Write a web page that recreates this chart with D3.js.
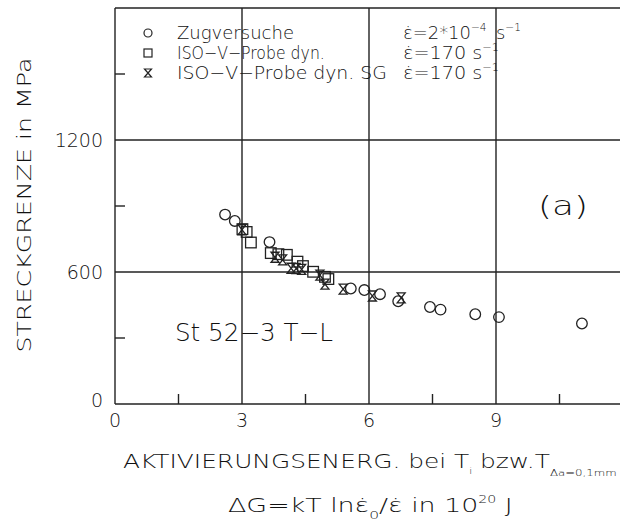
<!DOCTYPE html>
<html><head><meta charset="utf-8">
<script src="https://cdn.jsdelivr.net/npm/d3@7"></script>
<style>
body{margin:0;background:#fff;}
svg text{font-family:"DejaVu Sans",sans-serif;fill:#111;font-weight:200;}
</style></head>
<body><svg id="c" width="620" height="529"></svg>
<script>
// Data
const zugX = [2.60, 2.83, 3.65, 5.57, 5.89, 6.26, 6.69, 7.44, 7.69, 8.51, 9.07, 11.03];
const zugY = [861, 832, 736, 525, 518, 499, 467, 441, 429, 408, 395, 366];
const dynX = [3.01, 3.11, 3.21, 3.68, 3.86, 4.06, 4.31, 4.44, 4.68, 4.96, 5.04];
const dynY = [795, 782, 734, 686, 681, 678, 647, 627, 601, 578, 568];
const sgX = [3.00, 3.78, 3.96, 4.16, 4.28, 4.41, 4.84, 4.96, 5.39, 6.08, 6.76];
const sgY = [792, 667, 655, 617, 616, 612, 586, 545, 522, 491, 482];
const xMajor = [0, 3, 6, 9];
const xMinor = [1.5, 4.5, 7.5, 10.5];
const yMajor = [0, 600, 1200];
const yMinor = [300, 900, 1500];

const svg = d3.select("#c");
const x = d3.scaleLinear().domain([0, 12]).range([115, 623]);
const y = d3.scaleLinear().domain([0, 1800]).range([404, 8]);
const ink = "#222";

// stretch a text element horizontally so that it spans [x0, x0+w]
function fit(sel, x0, w) {
  const b = sel.node().getBBox();
  const s = w / b.width;
  sel.attr("transform", `translate(${x0 - b.x * s},0) scale(${s},1)`);
}

// frame and grid
const g = svg.append("g").attr("stroke", ink).attr("stroke-width", 1.4).attr("fill", "none");
g.append("line").attr("x1", x(0)).attr("x2", x(0)).attr("y1", y(0)).attr("y2", y(1800));
g.append("line").attr("x1", x(0)).attr("x2", x(12)).attr("y1", y(0)).attr("y2", y(0));
g.append("line").attr("x1", x(0)).attr("x2", x(12)).attr("y1", y(1800)).attr("y2", y(1800));
xMajor.filter(d => d > 0).forEach(d => g.append("line").attr("x1", x(d)).attr("x2", x(d)).attr("y1", y(0)).attr("y2", y(1800)));
yMajor.filter(d => d > 0).forEach(d => g.append("line").attr("x1", x(0)).attr("x2", x(12)).attr("y1", y(d)).attr("y2", y(d)));
xMinor.forEach(d => g.append("line").attr("x1", x(d)).attr("x2", x(d)).attr("y1", y(0)).attr("y2", y(0) - 10));
yMinor.forEach(d => g.append("line").attr("x1", x(0)).attr("x2", x(0) + 10).attr("y1", y(d)).attr("y2", y(d)));

// tick labels
svg.selectAll(".xl").data(xMajor).join("text").attr("class", "xl")
  .attr("x", d => x(d)).attr("y", 427).attr("text-anchor", "middle")
  .attr("font-size", 19).text(d => d);
svg.selectAll(".yl").data(yMajor).join("text").attr("class", "yl")
  .attr("x", 103).attr("y", d => d === 0 ? y(d) + 3 : y(d) + 7).attr("text-anchor", "end")
  .attr("font-size", 19).text(d => d);

// markers
const mk = svg.append("g").attr("stroke", ink).attr("stroke-width", 1.3).attr("fill", "none");
const hour = "M-4,-5L4,-5L-4,5L4,5Z";
d3.range(zugX.length).forEach(i => mk.append("circle").attr("cx", x(zugX[i])).attr("cy", y(zugY[i])).attr("r", 5.3));
d3.range(dynX.length).forEach(i => mk.append("rect").attr("x", x(dynX[i]) - 5.3).attr("y", y(dynY[i]) - 5.3).attr("width", 10.6).attr("height", 10.6));
d3.range(sgX.length).forEach(i => mk.append("path").attr("d", hour).attr("transform", `translate(${x(sgX[i])},${y(sgY[i])})`));

// legend
const leg = svg.append("g");
const rows = [33, 53, 73];
leg.append("circle").attr("cx", 148).attr("cy", rows[0]).attr("r", 4).attr("stroke", ink).attr("fill", "none").attr("stroke-width", 1.2);
leg.append("rect").attr("x", 144).attr("y", rows[1] - 4).attr("width", 8).attr("height", 8).attr("stroke", ink).attr("fill", "none").attr("stroke-width", 1.2);
leg.append("path").attr("d", "M-3.5,-4L3.5,-4L-3.5,4L3.5,4Z").attr("transform", `translate(148,${rows[2]})`).attr("stroke", ink).attr("fill", "none").attr("stroke-width", 1.2);
const names = ["Zugversuche", "ISO\u2212V\u2212Probe dyn.", "ISO\u2212V\u2212Probe dyn. SG"];
const nameW = [117, 148, 210];
names.forEach((n, i) => {
  const t = leg.append("text").attr("x", 0).attr("y", rows[i] + 6).attr("font-size", 17).text(n);
  fit(t, 177, nameW[i]);
});
const r1 = leg.append("text").attr("x", 0).attr("y", rows[0] + 6).attr("font-size", 17);
r1.append("tspan").text("\u03B5\u0307=2*10");
r1.append("tspan").attr("dy", -8).attr("font-size", 10).text("\u22124");
r1.append("tspan").attr("dy", 8).attr("dx", 9).text("s");
r1.append("tspan").attr("dy", -8).attr("font-size", 10).text("\u22121");
fit(r1, 403, 118);
[1, 2].forEach(i => {
  const t = leg.append("text").attr("x", 0).attr("y", rows[i] + 6).attr("font-size", 17);
  t.append("tspan").text("\u03B5\u0307=170 s");
  t.append("tspan").attr("dy", -8).attr("font-size", 10).text("\u22121");
  fit(t, 403, 96);
});

// annotations
const ta = svg.append("text").attr("x", 0).attr("y", 215).attr("font-size", 27).text("(a)");
fit(ta, 538, 50);
const ts = svg.append("text").attr("x", 0).attr("y", 341).attr("font-size", 24).text("St 52\u22123 T\u2212L");
fit(ts, 175, 158);

// y axis title
const yt = svg.append("text").attr("x", 0).attr("y", 0).attr("text-anchor", "middle")
  .attr("font-size", 19).text("STRECKGRENZE in MPa");
const yb = yt.node().getBBox();
yt.attr("transform", `translate(31,205) rotate(-90) scale(${295 / yb.width},1)`);

// x axis title
const t1 = svg.append("text").attr("x", 0).attr("y", 468).attr("font-size", 19);
t1.append("tspan").text("AKTIVIERUNGSENERG. bei T");
t1.append("tspan").attr("dy", 6).attr("font-size", 8).text("i");
t1.append("tspan").attr("dy", -6).text(" bzw.T");
t1.append("tspan").attr("dy", 8).attr("font-size", 9).text("\u0394a=0,1mm");
fit(t1, 123, 494);
const t2 = svg.append("text").attr("x", 0).attr("y", 512).attr("font-size", 19);
t2.append("tspan").text("\u0394G=kT ln\u03B5\u0307");
t2.append("tspan").attr("dy", 7).attr("font-size", 11).text("0");
t2.append("tspan").attr("dy", -7).text("/\u03B5\u0307 in 10");
t2.append("tspan").attr("dy", -9).attr("font-size", 10).text("20");
t2.append("tspan").attr("dy", 9).text(" J");
fit(t2, 228, 285);
</script></body></html>
